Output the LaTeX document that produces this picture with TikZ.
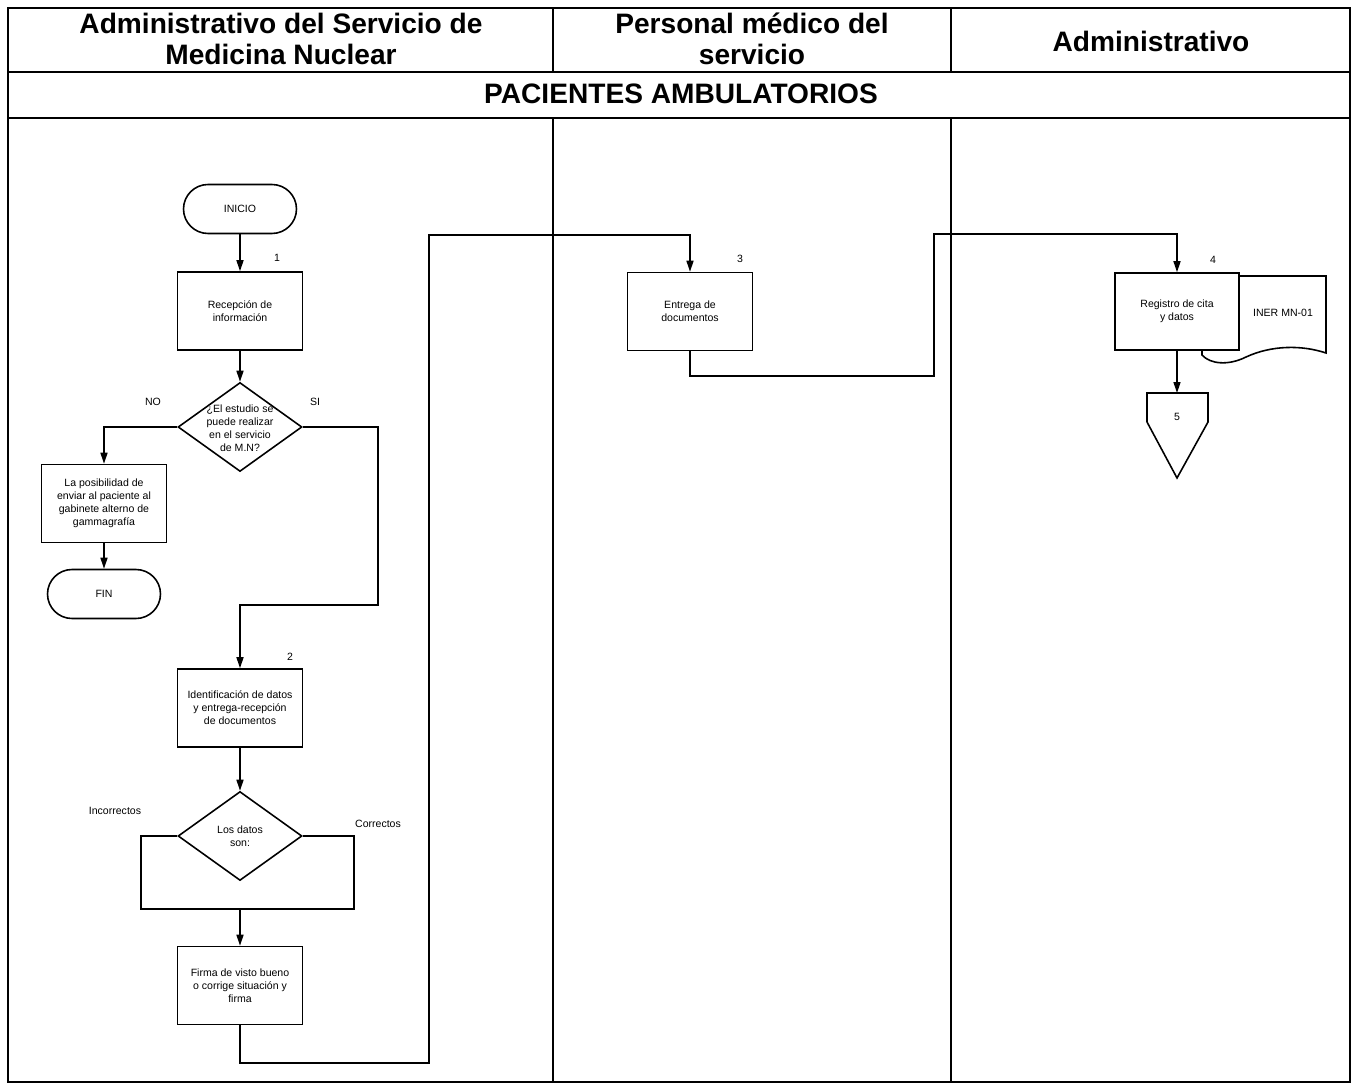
\documentclass[tikz,border=0pt]{standalone}
\usepackage{fontspec}
\setmainfont{Liberation Sans}
\usetikzlibrary{arrows.meta,shapes.geometric}

\tikzset{
  caja/.style={draw, line width=0.9pt, fill=white, minimum width=2.5cm, minimum height=1.56cm,
    inner sep=1pt, align=center, font=\fontsize{6}{7.4}\selectfont},
  terminal/.style={draw, line width=0.9pt, rounded corners=0.49cm, minimum width=2.26cm,
    minimum height=0.98cm, font=\fontsize{6}{7.4}\selectfont},
  rombo/.style={draw, diamond, line width=0.9pt, minimum width=2.48cm, minimum height=1.78cm, inner sep=0pt},
  texto/.style={align=center, inner sep=0pt, font=\fontsize{6}{7.4}\selectfont},
  flecha/.style={line width=0.85pt, -{Triangle[length=2.2mm,width=1.4mm]}},
  linea/.style={line width=0.85pt},
  carril/.style={line width=0.6pt},
  titulo/.style={align=center, font=\fontsize{16}{18}\selectfont\bfseries}
}

\begin{document}
\begin{tikzpicture}[x=0.02cm, y=-0.02cm] % 按像素坐标
    \useasboundingbox (0,0) rectangle (1355,1084);

    % === 泳道框架 ===
    \draw[line width=1pt] (8,8) rectangle (1350,1082);
    \draw[carril] (8,72) -- (1350,72);
    \draw[carril] (8,118) -- (1350,118);
    \foreach \x in {553,951} {
        \draw[carril] (\x,8) -- (\x,72);
        \draw[carril] (\x,118) -- (\x,1082);
    }

    % 标题
    \node[titulo] (tadm) at (281,39) {Administrativo del Servicio de\\Medicina Nuclear};
    \node[titulo] (tmed) at (752,39) {Personal médico del\\servicio};
    \node[titulo] (tadm2) at (1151,41) {Administrativo};
    \node[titulo] (tpac) at (681,94) {PACIENTES AMBULATORIOS};

    % === 第一泳道 ===
    \node[terminal] (inicio) at (240,209) {INICIO};
    \node[caja] (recepcion) at (240,311) {Recepción de\\información};
    \node[texto] (n1) at (277,258) {1};
    \node[rombo] (estudio) at (240,427) {};
    \node[texto] (estudiotxt) at (240,428) {¿El estudio se\\puede realizar\\en el servicio\\de M.N?};
    \node[texto] (no) at (153,402) {NO};
    \node[texto] (si) at (315,402) {SI};
    \node[caja] (posibilidad) at (104,503.5) {La posibilidad de\\enviar al paciente al\\gabinete alterno de\\gammagrafía};
    \node[terminal] (fin) at (104,594) {FIN};

    \node[caja] (identificacion) at (240,708) {Identificación de datos\\y entrega-recepción\\de documentos};
    \node[texto] (n2) at (290,657) {2};
    \node[rombo] (datos) at (240,836) {};
    \node[texto] (datostxt) at (240,836) {Los datos\\son:};
    \node[texto] (incorrectos) at (115,811) {Incorrectos};
    \node[texto] (correctos) at (378,824) {Correctos};
    \node[caja] (firma) at (240,985.5) {Firma de visto bueno\\o corrige situación y\\firma};

    % 连接点
    \coordinate (siA) at (378,605);
    \coordinate (bucleL) at (141,909);
    \coordinate (bucleM) at (240,909);
    \coordinate (bucleR) at (354,909);
    \coordinate (saltoA) at (429,1063);
    \coordinate (saltoB) at (429,235);

    \draw[flecha] (inicio) -- (recepcion);
    \draw[flecha] (recepcion) -- (estudio);
    \draw[flecha] (estudio.west) -| (posibilidad.north);
    \draw[flecha] (posibilidad) -- (fin);
    \draw[flecha] (estudio.east) -| (siA) -| (identificacion.north);
    \draw[flecha] (identificacion) -- (datos);
    \draw[linea] (datos.west) -| (bucleL) -- (bucleR) |- (datos.east);
    \draw[flecha] (bucleM) -- (firma);

    % === 第二泳道 ===
    \node[caja] (entrega) at (690,311.5) {Entrega de\\documentos};
    \node[texto] (n3) at (740,259) {3};
    \coordinate (saltoC) at (934,376);
    \coordinate (saltoD) at (934,234);

    \draw[flecha] (firma.south) |- (saltoA) -- (saltoB) -| (entrega.north);

    % === 第三泳道 ===
    % 文档符号（在方框之后）
    \draw[line width=0.9pt, fill=white] (1202,276) -- (1326,276) -- (1326,353)
        .. controls (1302,345) and (1272,345) .. (1246,357)
        .. controls (1228,366) and (1210,364) .. (1202,355) -- cycle;
    \node[texto] (iner) at (1283,313) {INER MN-01};
    \node[caja, minimum width=2.48cm, minimum height=1.54cm] (registro) at (1177,311.5) {Registro de cita\\y datos};
    \node[texto] (n4) at (1213,260) {4};

    % 离页连接符
    \coordinate (conector) at (1177,393);
    \draw[line width=0.9pt] (1147,393) -- (1208,393) -- (1208,422) -- (1177,478) -- (1147,422) -- cycle;
    \node[texto] (n5) at (1177,417) {5};

    \draw[flecha] (entrega.south) |- (saltoC) -- (saltoD) -| (registro.north);
    \draw[flecha] (registro) -- (conector);
\end{tikzpicture}
\end{document}
